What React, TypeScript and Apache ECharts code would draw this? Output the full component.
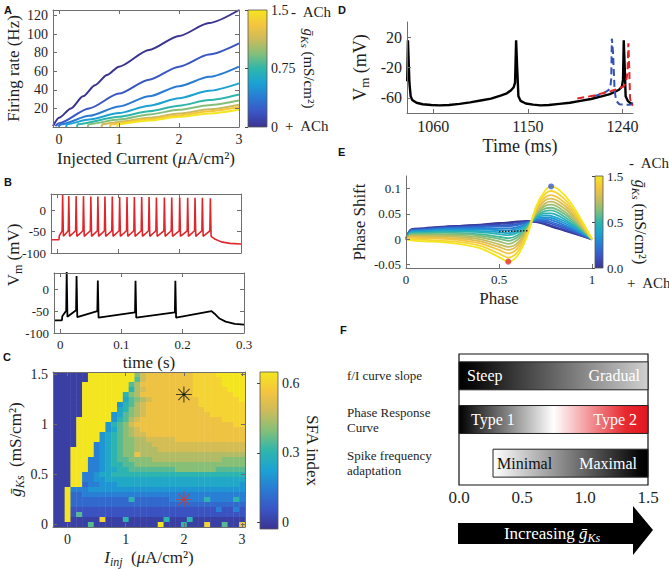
import React, { useEffect, useRef } from 'react';
import * as echarts from 'echarts';

const SERIF = '"Liberation Serif", "DejaVu Serif", "Times New Roman", serif';
const SANS = '"Liberation Sans", "DejaVu Sans", Arial, sans-serif';
const TXT = '#1e1e1e';
const AXC = '#6e6e6e';

// parula-like colormap (as seen in the figure)
const PARULA = ['#3a3391', '#3a55c4', '#2a7ad3', '#1ba2d3', '#2fb6ab', '#84bf79', '#cbbb5c', '#f5c53e', '#f3e620'];

// ---------------- Panel A : f/I curves ----------------
const fiTicksX = [0, 1, 2, 3];
const fiTicksY = [20, 40, 60, 80, 100, 120];
const fiGks = [0, 0.1875, 0.375, 0.5625, 0.75, 0.9375, 1.125, 1.3125, 1.5];
const fiCurve0 = [[-0.1, 1], [0, 10], [0.2, 20], [0.4, 33], [0.6, 45], [0.8, 56], [1, 65], [1.5, 83], [2, 98], [2.5, 112], [3, 126]];
const fiCurve1 = [[-0.06, 1], [0, 4], [0.5, 20], [1, 36], [1.5, 51], [2, 65], [2.5, 78], [3, 90]];
const fiCurve2 = [[-0.02, 1], [0.05, 3], [0.5, 12], [1, 22], [1.5, 33], [2, 44], [2.5, 54], [3, 65]];
const fiCurve3 = [[0.12, 0], [0.13, 3], [0.5, 8], [1, 15], [1.5, 23], [2, 31], [2.5, 39], [3, 47]];
const fiCurve4 = [[0.3, 0], [0.31, 3], [1, 11], [1.5, 17], [2, 23], [2.5, 29], [3, 35]];
const fiCurve5 = [[0.48, 0], [0.49, 3], [1, 8], [1.5, 13.5], [2, 18.5], [2.5, 23.5], [3, 28.5]];
const fiCurve6 = [[0.71, 0], [0.72, 3], [1, 5.5], [1.5, 10], [2, 14.5], [2.5, 19], [3, 24]];
const fiCurve7 = [[0.85, 0], [0.86, 3], [1.5, 8.5], [2, 12.5], [2.5, 17], [3, 21.5]];
const fiCurve8 = [[0.97, 0], [0.98, 3], [1.5, 7], [2, 11], [2.5, 14.5], [3, 18.5]];
const fiCurves = [fiCurve0, fiCurve1, fiCurve2, fiCurve3, fiCurve4, fiCurve5, fiCurve6, fiCurve7, fiCurve8];
const gksBarTicks = [0, 0.75, 1.5];

// ---------------- Panel B : voltage traces ----------------
const bTicksX = [0, 0.1, 0.2, 0.3];
const bTicksY = [-100, -50, 0];
const redSpikeT = [0.009, 0.019, 0.031, 0.043, 0.055, 0.0665, 0.078, 0.09, 0.102, 0.114, 0.126, 0.138, 0.15, 0.162, 0.175, 0.187, 0.2, 0.213, 0.225, 0.237, 0.25];
const redSpikePeak = [38, 33, 33, 33, 32, 32, 32, 32, 31, 31, 31, 31, 31, 30, 30, 30, 30, 29, 29, 29, 28];
const redPreV = -48;
const redTroughV = -61;
const redStart = [[-0.01, -69], [0.003, -69], [0.0035, -60]];
const redEnd = [[0.258, -68], [0.268, -74], [0.282, -77.5], [0.3, -79]];
const blackSpikeT = [0.0107, 0.0268, 0.0615, 0.123, 0.188];
const blackSpikePeak = [40, 30, 20, 19, 19];
const blackPre = [-49, -48, -50, -53, -53];
const blackTrough = [-63, -64, -65, -65, -65];
const blackStart = [[-0.01, -71], [0.003, -71], [0.0035, -62]];
const blackEnd = [[0.247, -50], [0.252, -56], [0.26, -67], [0.27, -74], [0.285, -79], [0.3, -81]];

// ---------------- Panel C : SFA heat map ----------------
const sfaCurrents = [-0.2, -0.1, 0, 0.1, 0.2, 0.3, 0.4, 0.5, 0.6, 0.7, 0.8, 0.9, 1, 1.1, 1.2, 1.3, 1.4, 1.5, 1.6, 1.7, 1.8, 1.9, 2, 2.1, 2.2, 2.3, 2.4, 2.5, 2.6, 2.7, 2.8, 2.9, 3];
const sfaGks = [0, 0.05, 0.1, 0.15, 0.2, 0.25, 0.3, 0.35, 0.4, 0.45, 0.5, 0.55, 0.6, 0.65, 0.7, 0.75, 0.8, 0.85, 0.9, 0.95, 1, 1.05, 1.1, 1.15, 1.2, 1.25, 1.3, 1.35, 1.4, 1.45, 1.5];
// one string per row, from gKs = 1.5 (top) down to 0 (bottom); each char is an SFA level
const sfaRowsTopDown = [
  ['000000', 'DDDDDDDD', '8A', 'BBBBBBBB', 'CCCC', 'DDDDD'].join(''),
  ['000000', 'DDDDDDDD', '7A', 'BBBBBBBB', 'CCCCC', 'DDDD'].join(''),
  ['00000', 'DDDDDDDD', '79', 'BBBBBBBBB', 'CCCCC', 'DDDD'].join(''),
  ['00000', 'DDDDDDDD', '69A', 'BBBBBBBB', 'CCCCCC', 'DDD'].join(''),
  ['00000', 'DDDDDDD', '689', 'BBBBBBBBB', 'CCCCCCC', 'DD'].join(''),
  ['00000', 'DDDDDDD', '5789A', 'BBBBBBBB', 'CCCCCCC', 'D'].join(''),
  ['00000', 'DDDDDD', '4679A', 'BBBBBBBBB', 'CCCCCCCC'].join(''),
  ['00000', 'DDDDDD', '5689A', 'BBBBBBBBBB', 'CCCCCCC'].join(''),
  ['00000', 'DDDDD', '45789A', 'BBBBBBBBBBB', 'CCCCCC'].join(''),
  ['0000', 'DDDDDD', '4679A', 'BBBBBBBBBBBBBB', 'CCCC'].join(''),
  ['0000', 'DDDDD', '4678A', 'BBBBBBBBBBBBBBBBB', 'CC'].join(''),
  ['0000', 'DDDDD', '45789A', 'BBBBBBBBBBBBBBBBBB'].join(''),
  ['0000', 'DDDD', '456789', 'AA', 'BBBBBBBBBBBBBBBBB'].join(''),
  ['0000', 'DDDD', '45678899', 'AAAAA', 'BBBBBBBBBBBB'].join(''),
  ['0000', 'DDD', '3456788', '999', 'AAAAAAAAAAAAAAAA'].join(''),
  ['000', 'DDDD', '3456788', '9999', 'AAAAAAAAAAAAAAA'].join(''),
  ['000', 'DDDD', '3456788B', '999999999999999999'].join(''),
  ['000', 'DDD', '3345677', '8888', '999999999999', '8888'].join(''),
  ['000', 'DDD', '33456677', '8888888888888888888'].join(''),
  ['000', 'DDD', '3345566', '77777777', '8888888', '77777'].join(''),
  ['000', 'DD', '33455', '66666666666666666666666'].join(''),
  ['000', 'DD', '3344', '555555555555555555555555'].join(''),
  ['000', 'DD', '233444', '555555555555555555555', '4'].join(''),
  ['00', 'D', '333', '444444444444444444444444444'].join(''),
  ['00', 'D', '22', '3333333333333333333333333333'].join(''),
  ['00', 'D', '2222222222', '6', '222222333333', '6', '3333', '6', '3'].join(''),
  ['00', 'D', '222222222222222222222222222222'].join(''),
  ['00', 'D', '1111111111111111111111111', '3', '11', '3', '1'].join(''),
  ['00', 'D', '1', '7', '1111111111111111111111111111'].join(''),
  ['00', 'D', '00000', 'C', '000', '6', '000000', '6', '000', '6', '000000000'].join(''),
  ['000000', '7', '00000000000', 'D', '000', '6', '000', 'C', '00', '7', '00', 'B'].join(''),
];
const SFA_CODES = '0123456789ABCD';
const SFA_STEP = 0.05;
const SFA_MIN = -0.03;
const SFA_MAX = 0.65;
const SFA_CELL_W = 0.1;
const SFA_CELL_H = 0.05;
const sfaMarkers = [
  { current: 2, gks: 1.3, color: '#1e1e1e' },
  { current: 2, gks: 0.25, color: '#d0393a' },
];

// ---------------- Panel D : phase shift traces ----------------
const dBlackT = [1035.2, 1035.9, 1037.3, 1038.5, 1040, 1044, 1050, 1058, 1066, 1075, 1085, 1095, 1105, 1115, 1124, 1130, 1134, 1136.5, 1137.8, 1138.8, 1139.8, 1141, 1143, 1148, 1155, 1162, 1170, 1180, 1190, 1200, 1210, 1220, 1228, 1233, 1237, 1239.5, 1240.5, 1241.2, 1242, 1243, 1245, 1247.5, 1250];
const dBlackV = [-38, 16, -40, -58, -63, -66.5, -68.5, -69.5, -70, -69.5, -68, -66, -63.5, -61, -57, -54, -50, -46, -40, 16, -20, -58, -64, -67.5, -69, -70, -69.5, -68, -66.5, -64, -61.5, -58, -55, -52, -49, -45, -36, 16, -15, -58, -64, -67, -68];
const dBlueT = [1212, 1218, 1223, 1226.5, 1228.5, 1229.3, 1229.9, 1231, 1232.5, 1234, 1237, 1242, 1247, 1250];
const dBlueV = [-58, -56, -53, -50, -45, -35, 18, 0, -50, -64, -68.5, -69, -69, -68];
const dRedT = [1197, 1205, 1213, 1221, 1229, 1236, 1241, 1243.5, 1244.8, 1245.6, 1246.4, 1247.2, 1248.2, 1250];
const dRedV = [-61, -59, -57, -54, -51, -48, -45, -40, -25, 12, -20, -60, -68, -70];

// ---------------- Panel E : phase response curves ----------------
const ePhase = [0, 0.03, 0.1, 0.2, 0.3, 0.4, 0.5, 0.55, 0.6, 0.65, 0.7, 0.75, 0.78, 0.85, 0.92, 1];
const prcGks = [0, 0.1, 0.2, 0.3, 0.4, 0.5, 0.6, 0.7, 0.8, 0.9, 1.0, 1.1, 1.2, 1.3, 1.4, 1.5];
const prcCurves = [
  [0, 0.020, 0.022, 0.025, 0.027, 0.029, 0.032, 0.033, 0.035, 0.036, 0.034, 0.029, 0.025, 0.017, 0.009, 0],
  [0, 0.019, 0.021, 0.024, 0.026, 0.028, 0.030, 0.031, 0.033, 0.035, 0.035, 0.031, 0.027, 0.019, 0.010, 0],
  [0, 0.018, 0.020, 0.023, 0.024, 0.026, 0.027, 0.028, 0.030, 0.034, 0.036, 0.034, 0.031, 0.022, 0.012, 0],
  [0, 0.018, 0.019, 0.022, 0.023, 0.024, 0.025, 0.025, 0.028, 0.033, 0.037, 0.037, 0.034, 0.025, 0.014, 0],
  [0, 0.016, 0.018, 0.020, 0.021, 0.022, 0.021, 0.021, 0.024, 0.031, 0.039, 0.040, 0.038, 0.028, 0.016, 0],
  [0, 0.015, 0.017, 0.019, 0.019, 0.019, 0.018, 0.017, 0.021, 0.030, 0.041, 0.043, 0.042, 0.032, 0.018, 0],
  [0, 0.014, 0.015, 0.017, 0.017, 0.016, 0.014, 0.012, 0.017, 0.028, 0.042, 0.047, 0.046, 0.036, 0.021, 0],
  [0, 0.013, 0.013, 0.015, 0.015, 0.014, 0.010, 0.008, 0.013, 0.026, 0.044, 0.051, 0.051, 0.040, 0.023, 0],
  [0, 0.011, 0.012, 0.013, 0.012, 0.010, 0.005, 0.002, 0.008, 0.024, 0.046, 0.056, 0.057, 0.045, 0.026, 0],
  [0, 0.010, 0.010, 0.010, 0.010, 0.007, 0.001, -0.003, 0.004, 0.021, 0.049, 0.061, 0.062, 0.050, 0.029, 0],
  [0, 0.008, 0.008, 0.008, 0.007, 0.004, -0.004, -0.009, -0.001, 0.019, 0.051, 0.066, 0.068, 0.055, 0.032, 0],
  [0, 0.006, 0.006, 0.006, 0.004, 0.000, -0.010, -0.015, -0.007, 0.017, 0.053, 0.071, 0.074, 0.061, 0.036, 0],
  [0, 0.005, 0.004, 0.003, 0.001, -0.004, -0.015, -0.021, -0.012, 0.014, 0.056, 0.077, 0.080, 0.067, 0.039, 0],
  [0, 0.003, 0.002, 0.001, -0.002, -0.008, -0.021, -0.028, -0.018, 0.012, 0.059, 0.083, 0.087, 0.073, 0.043, 0],
  [0, 0.000, -0.001, -0.003, -0.006, -0.013, -0.028, -0.036, -0.025, 0.008, 0.062, 0.090, 0.095, 0.080, 0.047, 0],
  [0, -0.002, -0.004, -0.006, -0.010, -0.018, -0.035, -0.044, -0.032, 0.005, 0.065, 0.097, 0.104, 0.088, 0.052, 0],
];
const prcMinPoint = [0.55, -0.044];
const prcMaxPoint = [0.78, 0.104];
const prcDotted = [[0.5, 0.015], [0.66, 0.017]];
const prcBarTicks = [0, 0.75, 1.5];
const prcBarLabels = ['0.0', '0.5', '1.5'];

// ---------------- Panel F : summary ----------------
const fRowNames = ['f/I curve slope', 'Phase Response\nCurve', 'Spike frequency\nadaptation'];
const fStarts = [0, 0, 0.27];
const fEnds = [1.5, 1.5, 1.5];
const fLeftText = ['Steep', 'Type 1', 'Minimal'];
const fRightText = ['Gradual', 'Type 2', 'Maximal'];
const fTicks = [0, 0.5, 1, 1.5];

const fLeftColor = ['#ffffff', '#ffffff', '#111111'];
const fLeftPad = [8, 12, 4];
const fRightPad = [8, 11, 11];
const fGradients = [
  [[0, '#000000'], [0.08, '#0a0a0a'], [1, '#d0d0d0']],
  [[0, '#000000'], [0.5, '#ffffff'], [0.88, '#e62a30'], [1, '#e3161e']],
  [[0, '#ffffff'], [0.95, '#050505'], [1, '#000000']],
];

function hexToRgb(h: string) {
  const n = parseInt(h.slice(1), 16);
  return [(n >> 16) & 255, (n >> 8) & 255, n & 255];
}
const PARULA_RGB = PARULA.map(hexToRgb);
function parula(t: number) {
  const u = Math.max(0, Math.min(1, t)) * (PARULA_RGB.length - 1);
  const i = Math.min(PARULA_RGB.length - 2, Math.floor(u));
  const f = u - i;
  const a = PARULA_RGB[i];
  const b = PARULA_RGB[i + 1];
  return `rgb(${Math.round(a[0] + (b[0] - a[0]) * f)},${Math.round(a[1] + (b[1] - a[1]) * f)},${Math.round(a[2] + (b[2] - a[2]) * f)})`;
}

function richSet(size: number, color = TXT) {
  const sub = Math.round(size * 0.7);
  return {
    n: { fontFamily: SERIF, fontSize: size, color, fill: color, lineHeight: size + 4 },
    it: { fontFamily: SERIF, fontSize: size, fontStyle: 'italic', color, fill: color, lineHeight: size + 4 },
    sb: { fontFamily: SERIF, fontSize: sub, fontStyle: 'italic', color, fill: color, verticalAlign: 'bottom', lineHeight: sub },
    sr: { fontFamily: SERIF, fontSize: sub, color, fill: color, verticalAlign: 'bottom', lineHeight: sub },
  };
}

function spikeTrace(start: number[][], times: number[], peaks: number[], pre: number[], trough: number[], end: number[][]) {
  const pts = start.slice();
  times.forEach((t, i) => {
    pts.push([t - 0.0008, pre[i]], [t, peaks[i]], [t + 0.0012, trough[i]]);
  });
  return pts.concat(end);
}

function zip(a: number[], b: number[]) {
  return a.map((v, i) => [v, b[i]]);
}

function buildOption() {
  const grids: any[] = [];
  const xAxes: any[] = [];
  const yAxes: any[] = [];
  const series: any[] = [];
  const fmt = (v: number) => String(+Number(v).toFixed(4));

  function addPanel(p: any) {
    const gi = grids.length;
    grids.push({ left: p.left, top: p.top, width: p.width, height: p.height });
    const ls = { color: AXC, width: 1 };
    const tick = (vals: number[]) => ({ show: true, inside: true, length: 4, customValues: vals, lineStyle: ls });
    const label = (vals: number[], show: boolean, f: any) => ({
      show, customValues: vals, formatter: f || fmt, margin: 5, fontFamily: SERIF, fontSize: p.fs, color: TXT,
    });
    const nameStyle = { fontFamily: SERIF, fontSize: p.nameFs, color: TXT, rich: richSet(p.nameFs) };
    const xi = xAxes.length;
    xAxes.push({
      type: 'value', gridIndex: gi, min: p.xMin, max: p.xMax, position: 'bottom', z: 10,
      axisLine: { show: true, onZero: false, lineStyle: ls },
      axisTick: tick(p.xTicks),
      axisLabel: label(p.xTicks, p.xLabels !== false, p.xFmt),
      splitLine: { show: false },
      name: p.xName || '', nameLocation: 'middle', nameGap: p.xGap || 20, nameTextStyle: nameStyle,
    });
    if (p.box) {
      xAxes.push({
        type: 'value', gridIndex: gi, min: p.xMin, max: p.xMax, position: 'top', z: 10,
        axisLine: { show: true, onZero: false, lineStyle: ls }, axisTick: tick(p.xTicks),
        axisLabel: { show: false }, splitLine: { show: false },
      });
    }
    const yi = yAxes.length;
    yAxes.push({
      type: 'value', gridIndex: gi, min: p.yMin, max: p.yMax, position: 'left', z: 10,
      axisLine: { show: true, onZero: false, lineStyle: ls },
      axisTick: tick(p.yTicks),
      axisLabel: label(p.yTicks, true, p.yFmt),
      splitLine: { show: false },
      name: p.yName || '', nameLocation: 'middle', nameGap: p.yGap || 30, nameRotate: 90, nameTextStyle: nameStyle,
    });
    if (p.box) {
      yAxes.push({
        type: 'value', gridIndex: gi, min: p.yMin, max: p.yMax, position: 'right', z: 10,
        axisLine: { show: true, onZero: false, lineStyle: ls }, axisTick: tick(p.yTicks),
        axisLabel: { show: false }, splitLine: { show: false },
      });
    }
    return { xi, yi };
  }

  function addColorbar(c: any) {
    const gi = grids.length;
    grids.push({ left: c.left, top: c.top, width: c.width, height: c.height });
    const xi = xAxes.length;
    xAxes.push({ type: 'value', gridIndex: gi, min: 0, max: 1, show: false });
    const yi = yAxes.length;
    yAxes.push({
      type: 'value', gridIndex: gi, min: c.min, max: c.max, position: 'right', z: 10,
      axisLine: { show: false },
      axisTick: { show: true, inside: true, length: 3, customValues: c.ticks, lineStyle: { color: '#444' } },
      axisLabel: {
        customValues: c.ticks,
        formatter: (v: number) => {
          const k = c.ticks.findIndex((t: number) => Math.abs(t - v) < 1e-9);
          return c.labels ? c.labels[k] : fmt(v);
        },
        margin: 4, fontFamily: SERIF, fontSize: c.fs, color: TXT,
      },
      splitLine: { show: false },
      name: c.name || '', nameLocation: 'middle', nameRotate: -90, nameGap: c.nameGap,
      nameTextStyle: { fontFamily: SERIF, fontSize: c.nameFs, color: TXT, rich: richSet(c.nameFs) },
    });
    series.push({
      type: 'custom', xAxisIndex: xi, yAxisIndex: yi, silent: true, clip: false,
      data: [[0.5, c.min]],
      renderItem: (params: any, api: any) => {
        const a = api.coord([0, c.max]);
        const b = api.coord([1, c.min]);
        return {
          type: 'rect',
          shape: { x: a[0], y: a[1], width: b[0] - a[0], height: b[1] - a[1] },
          style: {
            fill: new echarts.graphic.LinearGradient(0, 1, 0, 0, PARULA.map((col, i) => ({ offset: i / (PARULA.length - 1), color: col }))),
            stroke: '#555', lineWidth: 0.8,
          },
        };
      },
    });
  }

  // ---- A ----
  const A = addPanel({
    left: 53, top: 10, width: 186, height: 117, xMin: -0.1, xMax: 3, xTicks: fiTicksX,
    yMin: 0, yMax: 126, yTicks: fiTicksY, fs: 14, box: true, nameFs: 17,
    xName: '{n|Injected Current (}{it|μ}{n|A/cm²)}', xGap: 21,
    yName: '{n|Firing rate (Hz)}', yGap: 29,
  });
  fiCurves.forEach((pts, i) => {
    series.push({
      type: 'line', xAxisIndex: A.xi, yAxisIndex: A.yi, data: pts, showSymbol: false, silent: true,
      smooth: 0.25, smoothMonotone: 'x', lineStyle: { width: 2, color: parula(fiGks[i] / 1.5) },
    });
  });
  addColorbar({ left: 248, top: 10, width: 19, height: 117, min: 0, max: 1.5, ticks: gksBarTicks, fs: 14,
    name: '{it|ḡ}{sb|Ks}{n| (mS/cm²)}', nameGap: 29, nameFs: 15 });

  // ---- B ----
  const B1 = addPanel({
    left: 51, top: 194, width: 190, height: 59, xMin: -0.01, xMax: 0.3, xTicks: bTicksX,
    yMin: -100, yMax: 38, yTicks: bTicksY, fs: 13, box: true, xLabels: false, nameFs: 17,
  });
  const B2 = addPanel({
    left: 54, top: 273, width: 190, height: 60, xMin: -0.01, xMax: 0.3, xTicks: bTicksX,
    yMin: -100, yMax: 37, yTicks: bTicksY, fs: 13, box: true, nameFs: 17,
    xName: '{n|time (s)}', xGap: 19,
  });
  series.push({
    type: 'line', xAxisIndex: B1.xi, yAxisIndex: B1.yi, showSymbol: false, silent: true,
    data: spikeTrace(redStart, redSpikeT, redSpikePeak, redSpikeT.map(() => redPreV), redSpikeT.map(() => redTroughV), redEnd),
    lineStyle: { width: 1.6, color: '#e0262b' },
  });
  series.push({
    type: 'line', xAxisIndex: B2.xi, yAxisIndex: B2.yi, showSymbol: false, silent: true,
    data: spikeTrace(blackStart, blackSpikeT, blackSpikePeak, blackPre, blackTrough, blackEnd),
    lineStyle: { width: 1.8, color: '#000' },
  });

  // ---- C ----
  const C = addPanel({
    left: 53, top: 372, width: 192, height: 157, xMin: -0.25, xMax: 3.05, xTicks: [0, 1, 2, 3],
    yMin: -0.025, yMax: 1.525, yTicks: [0, 0.5, 1, 1.5], fs: 14, box: true, nameFs: 17,
    xName: '{it|I}{sb|inj}{n|  (}{it|μ}{n|A/cm²)}', xGap: 20,
    yName: '{it|ḡ}{sb|Ks}{n|  (mS/cm²)}', yGap: 27,
  });
  const sfaData: number[][] = [];
  sfaRowsTopDown.forEach((row, r) => {
    const j = sfaGks.length - 1 - r;
    for (let k = 0; k < sfaCurrents.length; k++) {
      const idx = SFA_CODES.indexOf(row[k]);
      sfaData.push([sfaCurrents[k], sfaGks[j], Math.max(0, idx) * SFA_STEP]);
    }
  });
  series.push({
    type: 'custom', xAxisIndex: C.xi, yAxisIndex: C.yi, silent: true, data: sfaData,
    renderItem: (params: any, api: any) => {
      const x = api.value(0);
      const y = api.value(1);
      const v = api.value(2);
      const a = api.coord([x - SFA_CELL_W / 2, y + SFA_CELL_H / 2]);
      const b = api.coord([x + SFA_CELL_W / 2, y - SFA_CELL_H / 2]);
      return {
        type: 'rect',
        shape: { x: a[0], y: a[1], width: b[0] - a[0] + 0.4, height: b[1] - a[1] + 0.4 },
        style: { fill: parula((v - SFA_MIN) / (SFA_MAX - SFA_MIN)) },
      };
    },
  });
  sfaMarkers.forEach((m) => {
    series.push({
      type: 'scatter', xAxisIndex: C.xi, yAxisIndex: C.yi, silent: true, z: 5,
      data: [[m.current, m.gks]], symbol: 'path://M10,0L10,20M0,10L20,10M3,3L17,17M3,17L17,3', symbolSize: 16,
      itemStyle: { color: 'rgba(0,0,0,0)', borderColor: m.color, borderWidth: 1.1 },
    });
    series.push({
      type: 'scatter', xAxisIndex: C.xi, yAxisIndex: C.yi, silent: true, z: 6,
      data: [[m.current, m.gks]], symbol: 'circle', symbolSize: 3, itemStyle: { color: m.color },
    });
  });
  addColorbar({ left: 260, top: 372, width: 18, height: 157, min: SFA_MIN, max: SFA_MAX, ticks: [0, 0.3, 0.6], fs: 14,
    name: '{n|SFA index}', nameGap: 24, nameFs: 17 });

  // ---- D ----
  const D = addPanel({
    left: 407, top: 22, width: 226, height: 91, xMin: 1035, xMax: 1250, xTicks: [1060, 1150, 1240],
    yMin: -80, yMax: 40, yTicks: [-60, -20, 20], fs: 16, box: false, nameFs: 18,
    xName: '{n|Time (ms)}', xGap: 22,
    yName: '{n|V}{sr|m}{n| (mV)}', yGap: 36,
  });
  series.push({
    type: 'line', xAxisIndex: D.xi, yAxisIndex: D.yi, showSymbol: false, silent: true,
    data: zip(dBlackT, dBlackV), lineStyle: { width: 2.4, color: '#000' },
  });
  series.push({
    type: 'line', xAxisIndex: D.xi, yAxisIndex: D.yi, showSymbol: false, silent: true,
    data: zip(dBlueT, dBlueV), lineStyle: { width: 2, color: '#3550b4', type: [7, 4] },
  });
  series.push({
    type: 'line', xAxisIndex: D.xi, yAxisIndex: D.yi, showSymbol: false, silent: true,
    data: zip(dRedT, dRedV), lineStyle: { width: 2, color: '#e0262b', type: [7, 4] },
  });

  // ---- E ----
  const E = addPanel({
    left: 406, top: 176, width: 186, height: 92, xMin: 0, xMax: 1, xTicks: [0, 0.5, 1],
    yMin: -0.0565, yMax: 0.1245, yTicks: [-0.05, 0, 0.05, 0.1], fs: 13, box: false, nameFs: 17,
    xName: '{n|Phase}', xGap: 20,
    yName: '{n|Phase Shift}', yGap: 36,
  });
  prcCurves.forEach((vals, c) => {
    series.push({
      type: 'line', xAxisIndex: E.xi, yAxisIndex: E.yi, showSymbol: false, silent: true,
      data: zip(ePhase, vals), smooth: 0.35, lineStyle: { width: 1.8, color: parula(prcGks[c] / 1.5) },
    });
  });
  series.push({
    type: 'line', xAxisIndex: E.xi, yAxisIndex: E.yi, showSymbol: false, silent: true,
    data: prcDotted, lineStyle: { width: 1.5, color: '#222', type: 'dotted' },
  });
  series.push({
    type: 'scatter', xAxisIndex: E.xi, yAxisIndex: E.yi, silent: true, z: 5,
    data: [prcMinPoint], symbolSize: 6, itemStyle: { color: '#e0302a' },
  });
  series.push({
    type: 'scatter', xAxisIndex: E.xi, yAxisIndex: E.yi, silent: true, z: 5,
    data: [prcMaxPoint], symbolSize: 6, itemStyle: { color: '#3a5cc8' },
  });
  addColorbar({ left: 595, top: 176, width: 8, height: 92, min: 0, max: 1.5, ticks: prcBarTicks, labels: prcBarLabels, fs: 13,
    name: '{it|ḡ}{sb|Ks}{n| (mS/cm²)}', nameGap: 27, nameFs: 16 });

  // ---- F ----
  const gF = grids.length;
  grids.push({ left: 459, top: 354, width: 189, height: 131, show: true, borderColor: '#111', borderWidth: 1.2, backgroundColor: 'transparent' });
  const fx = xAxes.length;
  xAxes.push({
    type: 'value', gridIndex: gF, min: 0, max: 1.5,
    axisLine: { show: false }, axisTick: { show: false }, splitLine: { show: false },
    axisLabel: { customValues: fTicks, formatter: (v: number) => Number(v).toFixed(1), fontFamily: SERIF, fontSize: 17, color: TXT, margin: 4 },
  });
  const fy = yAxes.length;
  yAxes.push({
    type: 'category', gridIndex: gF, data: fRowNames, inverse: true,
    axisLine: { show: false }, axisTick: { show: false }, splitLine: { show: false },
    axisLabel: { align: 'left', margin: 112, fontFamily: SERIF, fontSize: 13, lineHeight: 15, color: TXT },
  });
  series.push({
    type: 'custom', xAxisIndex: fx, yAxisIndex: fy, silent: true, clip: false,
    encode: { x: [0, 1], y: 2 },
    data: fRowNames.map((_, i) => [fStarts[i], fEnds[i], i]),
    renderItem: (params: any, api: any) => {
      const i = params.dataIndex;
      const s = api.coord([fStarts[i], i]);
      const e = api.coord([fEnds[i], i]);
      const h = api.size([0, 1])[1] * 0.64;
      return {
        type: 'group',
        children: [
          {
            type: 'rect',
            shape: { x: s[0], y: s[1] - h / 2, width: e[0] - s[0], height: h },
            style: {
              fill: new echarts.graphic.LinearGradient(0, 0, 1, 0, fGradients[i].map((g: any) => ({ offset: g[0], color: g[1] }))),
              stroke: '#222', lineWidth: 1,
            },
          },
          {
            type: 'text', x: s[0] + fLeftPad[i], y: s[1],
            style: { text: fLeftText[i], fill: fLeftColor[i], fontFamily: SERIF, fontSize: 16, align: 'left', verticalAlign: 'middle' },
          },
          {
            type: 'text', x: e[0] - fRightPad[i], y: s[1],
            style: { text: fRightText[i], fill: '#ffffff', fontFamily: SERIF, fontSize: 16, align: 'right', verticalAlign: 'middle' },
          },
        ],
      };
    },
  });

  const letter = (t: string, x: number, y: number) => ({
    type: 'text', x, y, silent: true,
    style: { text: t, fontFamily: SANS, fontWeight: 'bold', fontSize: 11, fill: '#111', align: 'left', verticalAlign: 'top' },
  });
  const plain = (t: string, x: number, y: number, size = 15) => ({
    type: 'text', x, y, silent: true,
    style: { text: t, fontFamily: SERIF, fontSize: size, fill: TXT, align: 'left', verticalAlign: 'middle' },
  });

  const graphic = [
    letter('A', 4, 4), letter('B', 4, 176), letter('C', 3, 351), letter('D', 338, 4), letter('E', 338, 146), letter('F', 340, 324),
    plain('-  ACh', 291, 12), plain('+  ACh', 285, 126),
    plain('-  ACh', 629, 163), plain('+  ACh', 627, 283),
    {
      type: 'text', x: 13, y: 255, rotation: Math.PI / 2, silent: true,
      style: { text: '{n|V}{sr|m}{n| (mV)}', rich: richSet(17), align: 'center', verticalAlign: 'middle' },
    },
    {
      type: 'polygon', silent: true, z: 1,
      shape: { points: [[458, 523], [633, 523], [633, 506], [653, 530], [633, 555], [633, 544], [458, 544]] },
      style: { fill: '#000' },
    },
    {
      type: 'text', x: 552, y: 533, silent: true, z: 5,
      style: { text: '{n|Increasing }{it|ḡ}{sb|Ks}', fill: '#ffffff', rich: richSet(17, '#ffffff'), align: 'center', verticalAlign: 'middle' },
    },
  ];

  return {
    animation: false,
    backgroundColor: '#ffffff',
    textStyle: { fontFamily: SERIF },
    grid: grids,
    xAxis: xAxes,
    yAxis: yAxes,
    series,
    graphic: { elements: graphic },
  };
}

export default function App() {
  const ref = useRef<HTMLDivElement>(null);
  useEffect(() => {
    document.body.style.margin = '0';
    const chart = echarts.init(ref.current as HTMLDivElement, null, { renderer: 'svg' });
    chart.setOption(buildOption() as any);
    return () => chart.dispose();
  }, []);
  return <div ref={ref} style={{ width: 669, height: 569 }} />;
}
